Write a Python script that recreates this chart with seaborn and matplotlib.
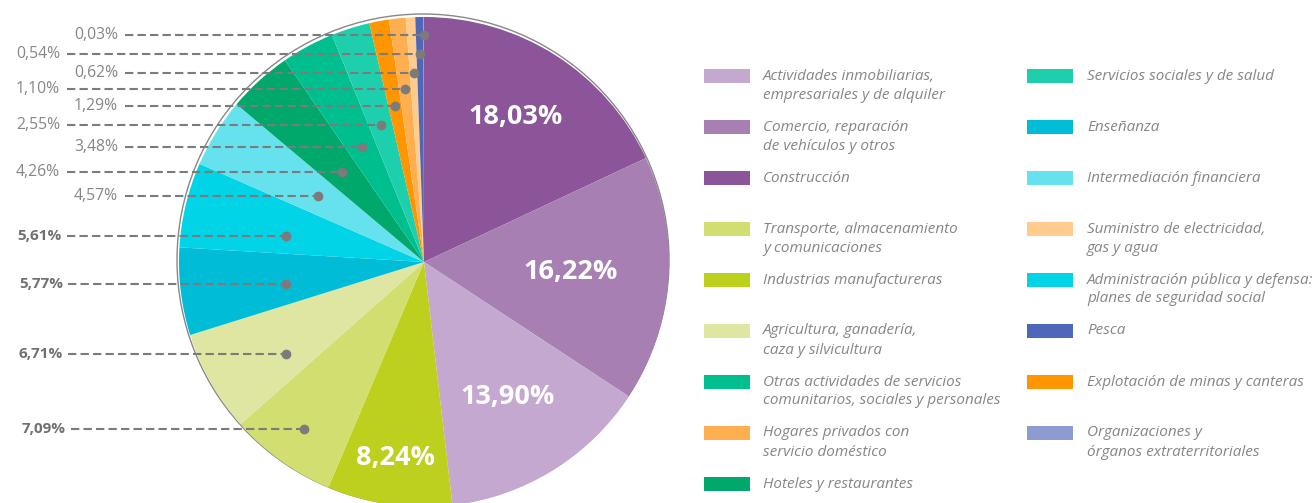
import numpy as np
import matplotlib.pyplot as plt
from matplotlib.patches import Circle, Rectangle
import seaborn as sns

sns.set_theme(style="white")
plt.rcParams['font.family'] = ['Open Sans', 'DejaVu Sans']

# ─── DATOS (orden de la tarta, sentido horario desde las 12) ──────────────
sectores = [
    "Construcción", "Comercio", "Inmobiliarias", "Industrias", "Transporte",
    "Agricultura", "Enseñanza", "Administración", "Intermediación",
    "Hoteles", "Otras actividades", "Servicios sociales", "Minas",
    "Hogares", "Suministro", "Pesca", "Organizaciones",
]
porcentajes = [18.03, 16.22, 13.90, 8.24, 7.09, 6.71, 5.77, 5.61, 4.57,
               4.26, 3.48, 2.55, 1.29, 1.10, 0.62, 0.54, 0.03]
colores = ["#8C5499", "#A77FB3", "#C4A8CF", "#BDD01E", "#D2DE70",
           "#DFE6A1", "#00BCD6", "#00D4E6", "#66E2EE", "#00A86B",
           "#00BF8F", "#1ECFAE", "#FF9500", "#FFAE50", "#FFCC8E",
           "#4F67B8", "#8E9BD0"]

# etiquetas dentro de la tarta
dentro = ["Construcción", "Comercio", "Inmobiliarias", "Industrias"]

# etiquetas a la izquierda (de arriba hacia abajo)
izquierda = ["Organizaciones", "Pesca", "Suministro", "Hogares", "Minas",
             "Servicios sociales", "Otras actividades", "Hoteles",
             "Intermediación", "Administración", "Enseñanza", "Agricultura",
             "Transporte"]

leyenda_izq = [
    ("Inmobiliarias", "Actividades inmobiliarias,\nempresariales y de alquiler"),
    ("Comercio", "Comercio, reparación\nde vehículos y otros"),
    ("Construcción", "Construcción"),
    ("Transporte", "Transporte, almacenamiento\ny comunicaciones"),
    ("Industrias", "Industrias manufactureras"),
    ("Agricultura", "Agricultura, ganadería,\ncaza y silvicultura"),
    ("Otras actividades", "Otras actividades de servicios\ncomunitarios, sociales y personales"),
    ("Hogares", "Hogares privados con\nservicio doméstico"),
    ("Hoteles", "Hoteles y restaurantes"),
]
leyenda_der = [
    ("Servicios sociales", "Servicios sociales y de salud"),
    ("Enseñanza", "Enseñanza"),
    ("Intermediación", "Intermediación financiera"),
    ("Suministro", "Suministro de electricidad,\ngas y agua"),
    ("Administración", "Administración pública y defensa:\nplanes de seguridad social"),
    ("Pesca", "Pesca"),
    ("Minas", "Explotación de minas y canteras"),
    ("Organizaciones", "Organizaciones y\nórganos extraterritoriales"),
]

# ─── LAYOUT (pixeles desde arriba) ────────────────────────────────────────
W, H = 1315, 503
CX, CY, R = 424, H - 262, 245
GRIS = "#7B7B7B"
TEXTO = "#868686"
TEXTO_B = "#707070"

dist_dentro = [0.70, 0.60, 0.65, 0.81]
y_izq = [35, 54, 73, 89, 106, 125, 147, 172, 196, 236, 284, 354, 429]
x_izq = [118, 60, 118, 60, 118, 60, 118, 60, 118, 62, 63, 63, 66]
X_MAX = 0.563 * R

fila0, paso = 76, 51
x_col = [(704, 763), (1027, 1087)]


def fmt(v):
    return f"{v:.2f}%".replace(".", ",")


fig = plt.figure(figsize=(W / 100, H / 100), dpi=100, facecolor="white")
ax = fig.add_axes([0, 0, 1, 1])

wedges, _ = ax.pie(porcentajes, colors=colores, startangle=90,
                   counterclock=False, center=(CX, CY), radius=R,
                   frame=True, wedgeprops=dict(linewidth=0))
ax.add_patch(Circle((CX - 1, CY + 2), R + 1, fill=False,
                    edgecolor="#888888", linewidth=1.0, zorder=0.5))

mid = {s: np.deg2rad((w.theta1 + w.theta2) / 2) for s, w in zip(sectores, wedges)}
valor = dict(zip(sectores, porcentajes))
color = dict(zip(sectores, colores))

# porcentajes dentro
for s, d in zip(dentro, dist_dentro):
    a = mid[s]
    ax.text(CX + d * R * np.cos(a), CY + d * R * np.sin(a), fmt(valor[s]),
            ha="center", va="center", color="white", fontsize=19.5,
            fontweight="bold")

# porcentajes a la izquierda con lineas guia
for s, py, xr in zip(izquierda, y_izq, x_izq):
    a = mid[s]
    y = H - py
    if abs(np.sin(a)) < 0.5:
        dx = -X_MAX
    else:
        dx = max((y - CY) / np.sin(a) * np.cos(a), -X_MAX)
    xd = CX + dx
    negrita = valor[s] > 5
    ax.text(xr, y, fmt(valor[s]), ha="right", va="center",
            color=TEXTO_B if negrita else TEXTO,
            fontsize=11 if negrita else 11.3,
            fontweight="bold" if negrita else "normal")
    ax.plot([xr + (5 if negrita else 7), xd], [y, y], color=GRIS,
            linewidth=1.5, linestyle=(0, (4, 2)), solid_capstyle="butt",
            zorder=3)
    ax.plot(xd, y, "o", color=GRIS, markersize=6, zorder=4)

# leyenda manual en dos columnas
for (xp, xt), items in zip(x_col, [leyenda_izq, leyenda_der]):
    for i, (s, txt) in enumerate(items):
        py = fila0 + i * paso
        ax.add_patch(Rectangle((xp, H - py - 7), 46, 14,
                               facecolor=color[s], edgecolor="none"))
        for j, linea in enumerate(txt.split("\n")):
            ax.text(xt, H - py - j * 19, linea, ha="left", va="center",
                    color=TEXTO, fontsize=11, style="italic")

ax.set_xlim(0, W)
ax.set_ylim(0, H)
ax.axis("off")

plt.savefig("out.png", dpi=100, facecolor="white")
